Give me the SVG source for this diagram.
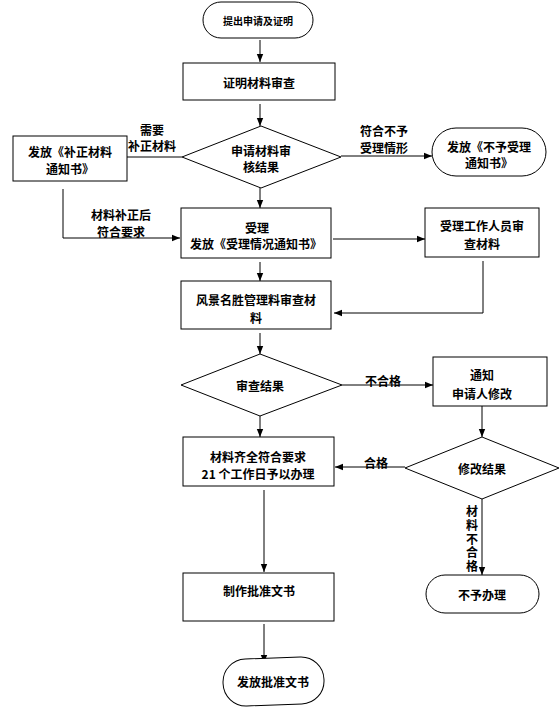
<svg xmlns="http://www.w3.org/2000/svg" width="560" height="707" viewBox="0 0 560 707">
<style>
.n{fill:#fff;stroke:#000;stroke-width:1}
.t{font-family:"Noto Sans CJK SC","Liberation Sans",sans-serif;font-weight:bold;font-size:12px;text-anchor:middle;dominant-baseline:central;fill:#000}
.s{font-size:10px}
.v{writing-mode:vertical-rl;letter-spacing:1.7px}
.c{fill:none;stroke:#000;stroke-width:1}
</style>
<defs>
<marker id="arr" viewBox="0 0 10 10" refX="10" refY="5" markerWidth="8" markerHeight="8" markerUnits="userSpaceOnUse" orient="auto">
<path d="M0,1 L10,5 L0,9 z" fill="#000"/>
</marker>
</defs>
<rect width="560" height="707" fill="#fff"/>

<g id="connectors">
<path class="c" d="M260,40 V62" marker-end="url(#arr)"/>
<path class="c" d="M260,104 V126" marker-end="url(#arr)"/>
<path class="c" d="M127,157 H182"/>
<path class="c" d="M341,156 H432" marker-end="url(#arr)"/>
<path class="c" d="M63,189 V238 H180" marker-end="url(#arr)"/>
<path class="c" d="M260,188 V208" marker-end="url(#arr)"/>
<path class="c" d="M333,239 H425" marker-end="url(#arr)"/>
<path class="c" d="M483,261 V313 H334" marker-end="url(#arr)"/>
<path class="c" d="M260,262 V281" marker-end="url(#arr)"/>
<path class="c" d="M260,333 V354" marker-end="url(#arr)"/>
<path class="c" d="M342,385 H433" marker-end="url(#arr)"/>
<path class="c" d="M482,406 V437" marker-end="url(#arr)"/>
<path class="c" d="M405,467 H335" marker-end="url(#arr)"/>
<path class="c" d="M260,416 V437" marker-end="url(#arr)"/>
<path class="c" d="M264,490 V572" marker-end="url(#arr)"/>
<path class="c" d="M482,499 V575" marker-end="url(#arr)"/>
<path class="c" d="M264,624 V663" marker-end="url(#arr)"/>
<text class="t" x="152" y="129">需要</text>
<text class="t" x="152" y="145">补正材料</text>
<text class="t" x="384" y="130">符合不予</text>
<text class="t" x="384" y="147">受理情形</text>
<text class="t" x="121" y="214">材料补正后</text>
<text class="t" x="121" y="231">符合要求</text>
<text class="t" x="383" y="380">不合格</text>
<text class="t" x="376" y="462">合格</text>
<text class="t v" x="472" y="540">材料不合格</text>
</g>

<g id="start">
<rect class="n" x="203" y="2" width="110" height="36" rx="18"/>
<text class="t s" x="258" y="20">提出申请及证明</text>
</g>
<g id="review">
<rect class="n" x="183" y="63" width="152" height="37"/>
<text class="t" x="259" y="82">证明材料审查</text>
</g>
<g id="decision1">
<polygon class="n" points="182,157 261,126 341,157 261,188"/>
<text class="t" x="261" y="150">申请材料审</text>
<text class="t" x="261" y="166">核结果</text>
</g>
<g id="supplement">
<rect class="n" x="13" y="136" width="114" height="45"/>
<text class="t" x="70" y="151">发放《补正材料</text>
<text class="t" x="70" y="168">通知书》</text>
</g>
<g id="reject1">
<rect class="n" x="432" y="128" width="114" height="48" rx="24"/>
<text class="t" x="489" y="146">发放《不予受理</text>
<text class="t" x="489" y="162">通知书》</text>
</g>
<g id="accept">
<rect class="n" x="181" y="208" width="150" height="50"/>
<text class="t" x="257" y="227">受理</text>
<text class="t" x="256" y="243">发放《受理情况通知书》</text>
</g>
<g id="staff">
<rect class="n" x="425" y="208" width="114" height="49"/>
<text class="t" x="482" y="225">受理工作人员审</text>
<text class="t" x="482" y="243">查材料</text>
</g>
<g id="scenic">
<rect class="n" x="181" y="281" width="150" height="48"/>
<text class="t" x="256" y="299">风景名胜管理料审查材</text>
<text class="t" x="256" y="317">料</text>
</g>
<g id="decision2">
<polygon class="n" points="181,385 260,354 342,385 260,416"/>
<text class="t" x="260" y="385">审查结果</text>
</g>
<g id="notify">
<rect class="n" x="433" y="357" width="114" height="49"/>
<text class="t" x="482" y="374">通知</text>
<text class="t" x="482" y="393">申请人修改</text>
</g>
<g id="decision3">
<polygon class="n" points="405,468 482,437 559,468 482,499"/>
<text class="t" x="482" y="468">修改结果</text>
</g>
<g id="complete">
<rect class="n" x="183" y="437" width="151" height="49"/>
<text class="t" x="258" y="456">材料齐全符合要求</text>
<text class="t" x="258" y="473">21 个工作日予以办理</text>
</g>
<g id="refuse">
<rect class="n" x="426" y="575" width="113" height="38" rx="19"/>
<text class="t" x="482" y="594">不予办理</text>
</g>
<g id="make">
<rect class="n" x="183" y="573" width="151" height="48"/>
<text class="t" x="259" y="590">制作批准文书</text>
</g>
<g id="issue">
<rect class="n" x="223" y="658" width="101" height="47" rx="23" transform="rotate(-2 273 681)"/>
<text class="t" x="273" y="681">发放批准文书</text>
</g>
</svg>
